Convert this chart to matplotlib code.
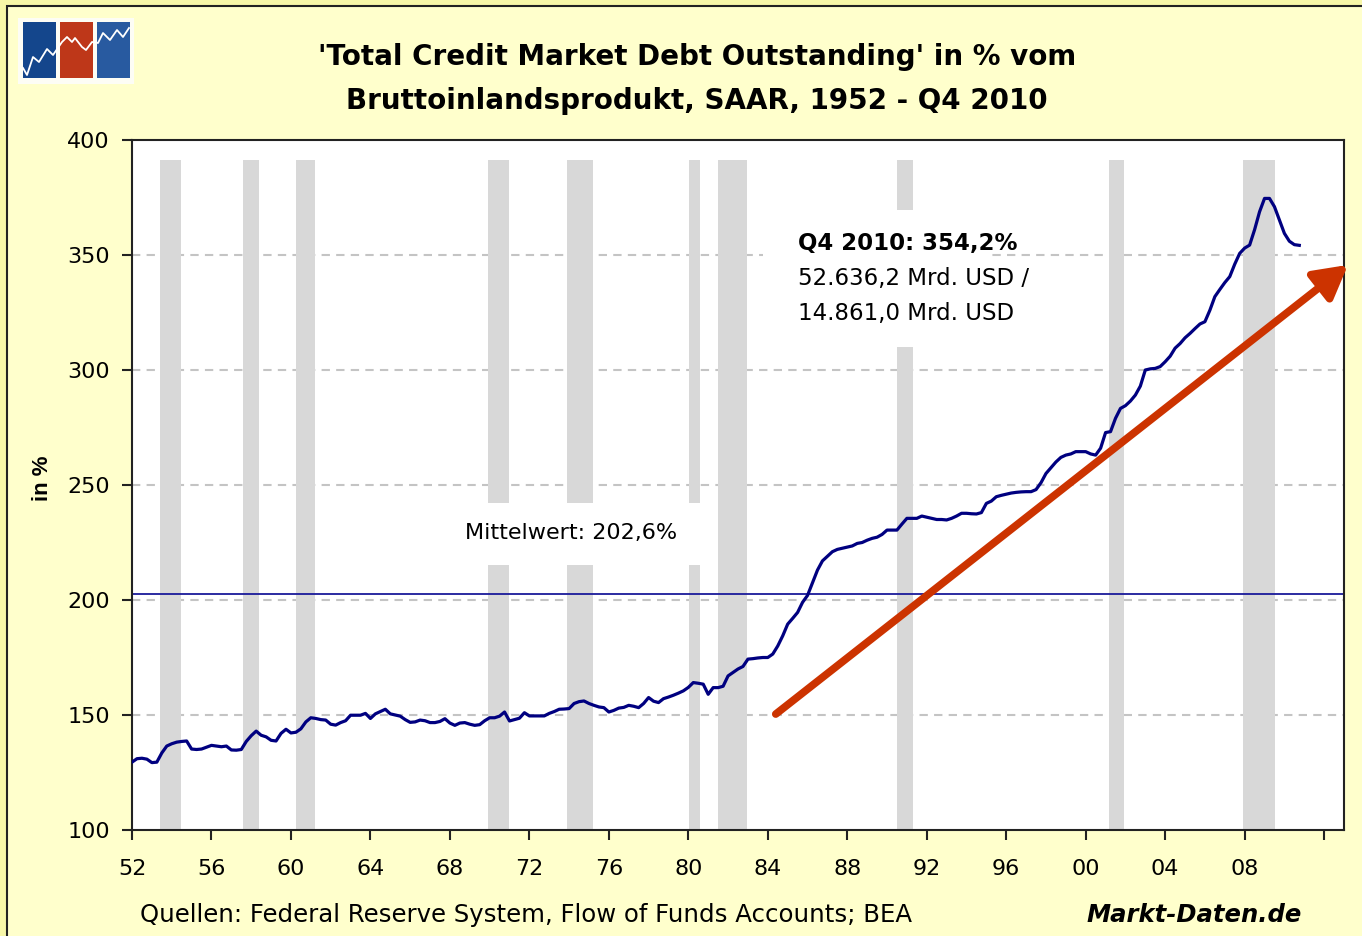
import numpy as np
import matplotlib.pyplot as plt
from matplotlib.patches import Rectangle

# Total Credit Market Debt in % of GDP, quarterly 1952Q1 - 2010Q4
debt_ratio = [
    129.5, 131.0, 131.2, 130.8,   # 1952
    129.3, 129.5, 133.5, 136.5,   # 1953
    137.5, 138.2, 138.5, 138.7,   # 1954
    135.2, 135.0, 135.2, 136.0,   # 1955
    136.8, 136.5, 136.2, 136.5,   # 1956
    134.8, 134.7, 135.0, 138.5,   # 1957
    141.0, 143.0, 141.2, 140.5,   # 1958
    139.0, 138.7, 142.0, 143.8,   # 1959
    142.2, 142.5, 144.0, 147.0,   # 1960
    148.8, 148.5, 148.0, 147.8,   # 1961
    146.0, 145.6, 146.7, 147.5,   # 1962
    149.9, 149.9, 149.9, 150.7,   # 1963
    148.5, 150.5, 151.5, 152.5,   # 1964
    150.5, 150.0, 149.5, 148.0,   # 1965
    146.8, 147.0, 147.8, 147.5,   # 1966
    146.7, 146.7, 147.2, 148.4,   # 1967
    146.5, 145.5, 146.5, 146.7,   # 1968
    146.0, 145.5, 145.8, 147.5,   # 1969
    148.8, 148.8, 149.5, 151.3,   # 1970
    147.4, 148.0, 148.6, 151.0,   # 1971
    149.6, 149.6, 149.6, 149.6,   # 1972
    150.7, 151.5, 152.5, 152.6,   # 1973
    152.8, 155.0, 155.8, 156.1,   # 1974
    155.0, 154.2, 153.5, 153.2,   # 1975
    151.3, 152.0, 153.0, 153.3,   # 1976
    154.2, 153.8, 153.2, 155.0,   # 1977
    157.6, 156.0, 155.4, 157.1,   # 1978
    157.8, 158.6, 159.5, 160.5,   # 1979
    162.0, 164.1, 163.8, 163.4,   # 1980
    159.0, 161.9, 161.9, 162.5,   # 1981
    167.0, 168.5, 170.0, 171.1,   # 1982
    174.3, 174.5, 174.8, 175.0,   # 1983
    175.0, 176.5, 180.0, 184.4,   # 1984
    189.5, 192.0, 194.6, 199.0,   # 1985
    202.0, 207.5, 213.0, 217.0,   # 1986
    219.0, 221.0, 222.0, 222.5,   # 1987
    223.0, 223.5, 224.6, 225.0,   # 1988
    226.0, 226.8, 227.3, 228.5,   # 1989
    230.4, 230.4, 230.4, 233.0,   # 1990
    235.5, 235.5, 235.5, 236.5,   # 1991
    236.0, 235.5, 235.0, 235.0,   # 1992
    234.8, 235.5, 236.5, 237.7,   # 1993
    237.7, 237.5, 237.4, 238.0,   # 1994
    242.0, 243.0, 244.9, 245.5,   # 1995
    246.0, 246.5, 246.8, 247.0,   # 1996
    247.1, 247.1, 248.0, 251.0,   # 1997
    255.0, 257.5, 260.0, 262.0,   # 1998
    263.0, 263.5, 264.5, 264.5,   # 1999
    264.5, 263.5, 263.0, 266.0,   # 2000
    272.8, 273.2, 279.0, 283.3,   # 2001
    284.5, 286.5, 289.1, 293.0,   # 2002
    300.0, 300.5, 300.7, 301.5,   # 2003
    303.6, 306.0, 309.5, 311.5,   # 2004
    314.0, 315.9, 318.0, 320.0,   # 2005
    321.0, 326.0, 331.9, 335.0,   # 2006
    338.0, 340.6, 346.0, 350.7,   # 2007
    353.0, 354.3, 361.0, 368.8,   # 2008
    374.6, 374.6, 371.0, 365.2,   # 2009
    359.4, 356.0, 354.5, 354.2,   # 2010
]
quarters = 1952 + np.arange(len(debt_ratio)) / 4

mittelwert = 202.6

# Rezessionen (Anfang, Ende) in Jahren
rez_start = [1953.4, 1957.6, 1960.25, 1969.9, 1973.9, 1980.05, 1981.5, 1990.5, 2001.15, 2007.9]
rez_ende = [1954.45, 1958.4, 1961.2, 1970.95, 1975.2, 1980.6, 1982.95, 1991.3, 2001.95, 2009.55]

x_ticks = np.arange(1952, 2013, 4)
x_labels = [f'{t % 100:02d}' if t < 2012 else '' for t in x_ticks]

# Pfeil (Trend)
pfeil_von = (1984.4, 150.4)
pfeil_bis = (2013.2, 345.7)

W, H = 1362, 936
GELB = '#FFFFCC'
NAVY = '#000080'
SCHRIFT = 'DejaVu Sans'


def fpx(x, y):
    return x / W, 1 - y / H


fig = plt.figure(figsize=(W / 100, H / 100), dpi=100, facecolor='#F7F7A8')
# innerer Hintergrund mit Rahmen
fig.patches.append(Rectangle(fpx(7, 940), (W + 10) / W, 934 / H, transform=fig.transFigure,
                             facecolor=GELB, edgecolor='#222222', lw=1.5, zorder=-5))

ax = fig.add_axes([132 / W, 1 - 830 / H, (1344 - 132) / W, (830 - 140) / H], zorder=2)
ax.set_facecolor('white')

for a, b in zip(rez_start, rez_ende):
    ax.bar((a + b) / 2, 391.3 - 100, width=b - a, bottom=100, color='#D8D8D8', zorder=1)

# weisse Felder hinter den Beschriftungen
ax.add_patch(Rectangle((1983.75, 310), 11.45, 59.6, facecolor='white', edgecolor='none', zorder=1.5))
ax.add_patch(Rectangle((1969.6, 215.2), 11.3, 27, facecolor='white', edgecolor='none', zorder=1.5))

ax.axhline(mittelwert, color='#1A1A9A', lw=1.3, zorder=2)
ax.plot(quarters, debt_ratio, color=NAVY, lw=2.3, zorder=3)

ax.set_xlim(1952, 2013)
ax.set_ylim(100, 400)
ax.set_yticks(np.arange(100, 401, 50))
ax.set_xticks(x_ticks)
ax.set_xticklabels(x_labels)
for y in range(150, 400, 50):
    ax.axhline(y, color='#C4C4C4', lw=1.5, ls=(0, (4, 3)), zorder=0.5)

for s in ax.spines.values():
    s.set_color('#222222')
    s.set_linewidth(1.5)
ax.tick_params(axis='both', direction='out', length=7, width=1.5, color='#222222',
               labelsize=16, labelfontfamily=SCHRIFT)
ax.tick_params(axis='x', pad=14)
ax.tick_params(axis='y', pad=9)

ax.text(1968.75, 229, 'Mittelwert: 202,6%', fontsize=16, family=SCHRIFT,
        ha='left', va='center', zorder=4)
ax.text(1985.5, 355.2, 'Q4 2010: 354,2%', fontsize=16.5, family=SCHRIFT,
        fontweight='bold', ha='left', va='center', zorder=4)
ax.text(1985.5, 339.7, '52.636,2 Mrd. USD /', fontsize=16.5, family=SCHRIFT,
        ha='left', va='center', zorder=4)
ax.text(1985.5, 324.5, '14.861,0 Mrd. USD', fontsize=16.5, family=SCHRIFT,
        ha='left', va='center', zorder=4)

ax.annotate('', xy=pfeil_bis, xytext=pfeil_von, annotation_clip=False,
            arrowprops=dict(arrowstyle='-|>,head_length=0.9,head_width=0.5', mutation_scale=22,
                            lw=5.5, color='#CC3300', shrinkA=0, shrinkB=0), zorder=5)

# Titel
fig.text(*fpx(697, 79), "'Total Credit Market Debt Outstanding' in % vom\n"
         "Bruttoinlandsprodukt, SAAR, 1952 - Q4 2010",
         ha='center', va='center', fontsize=20, fontweight='bold', family='DejaVu Sans',
         linespacing=1.7)
fig.text(*fpx(42, 478), 'in %', rotation=90, ha='center', va='center', fontsize=16,
         fontweight='bold', family='Liberation Sans')
fig.text(*fpx(140, 915), 'Quellen: Federal Reserve System, Flow of Funds Accounts; BEA',
         ha='left', va='center', fontsize=17.6, family=SCHRIFT)
fig.text(*fpx(1302, 915), 'Markt-Daten.de', ha='right', va='center', fontsize=17.5,
         fontweight='bold', style='italic', family='DejaVu Sans')

# Logo
fig.patches.append(Rectangle(fpx(18, 84), 116 / W, 66 / H, transform=fig.transFigure,
                             facecolor='#FDFDF5', edgecolor='none'))
for x0, farbe in zip([23, 60, 97], ['#14468C', '#BE3719', '#285AA0']):
    fig.patches.append(Rectangle(fpx(x0, 78), 33 / W, 56 / H, transform=fig.transFigure,
                                 facecolor=farbe, edgecolor='none'))
logo_x = [23, 27, 33, 39, 47, 53, 62, 67, 72, 75, 82, 86, 92, 98, 103, 110, 117, 123, 129]
logo_y = [68, 75, 57, 62, 49, 55, 42, 37, 42, 38, 47, 50, 42, 43, 33, 40, 30, 37, 28]
fig.add_artist(plt.Line2D(np.array(logo_x) / W, 1 - np.array(logo_y) / H,
                          transform=fig.transFigure, color='white', lw=1.3))

fig.savefig('out.png', dpi=100, facecolor=fig.get_facecolor())
